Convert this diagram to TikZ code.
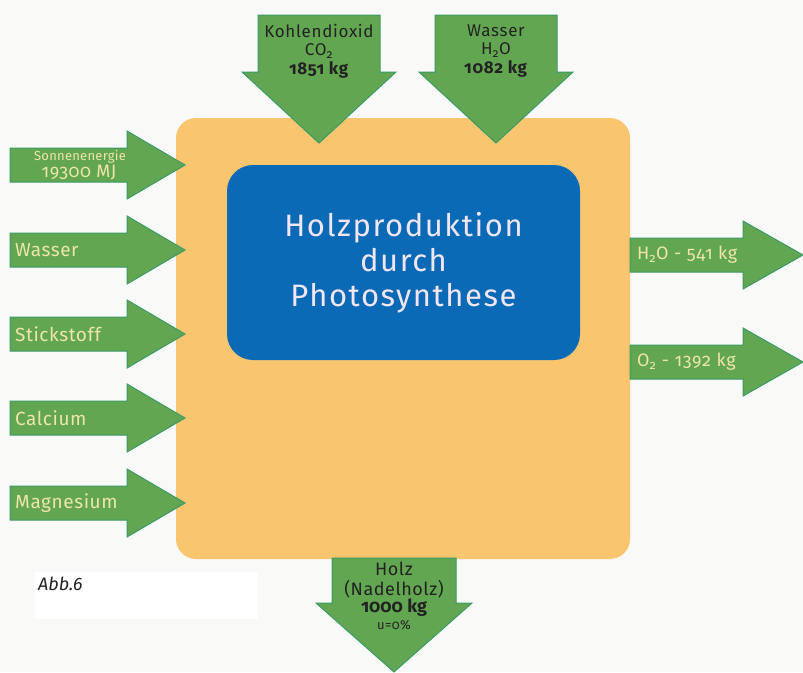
\documentclass[tikz,border=0pt]{standalone}
\usepackage{fontspec}
\setmainfont{Fira Sans}[Numbers=OldStyle]
\usetikzlibrary{positioning}
\definecolor{paper}{HTML}{F9F9F7}
\definecolor{boxorange}{HTML}{F9C66F}
\definecolor{coreblue}{HTML}{0A6AB6}
\definecolor{coretext}{HTML}{F3E6F3}
\definecolor{flowgreen}{HTML}{63A651}
\definecolor{flowedge}{HTML}{3A9A68}
\definecolor{labelyellow}{HTML}{EEE6A6}
\definecolor{labeldark}{HTML}{222222}

\begin{document}
\begin{tikzpicture}[x=1pt,y=-1pt,
    hub/.style={fill=boxorange, rounded corners=20pt, minimum width=454pt, minimum height=441pt},
    core/.style={fill=coreblue, rounded corners=26pt, minimum width=353pt, minimum height=195pt,
                 text=coretext, align=center, font=\fontsize{31}{35}\selectfont\addfontfeatures{LetterSpace=5}},
    flow/.style={fill=flowgreen, draw=flowedge, line width=1pt, line join=miter},
    sidelabel/.style={text=labelyellow, anchor=west, inner sep=0pt,
                      font=\fontsize{19}{19}\selectfont\addfontfeatures{LetterSpace=3}},
    outlabel/.style={sidelabel, font=\fontsize{18}{18}\selectfont\addfontfeatures{LetterSpace=4}},
    toplabel/.style={text=labeldark, align=center, inner sep=0pt,
                     font=\fontsize{17}{18.5}\selectfont\addfontfeatures{LetterSpace=4}}]

    \fill[paper] (0,0) rectangle (803,672);
    \useasboundingbox (0,0) rectangle (803,672);
    \fill[white] (35,572) rectangle (258,619);

    \node[hub]  (plant) at (403,338.5) {};
    \node[core] (photo) at (403.5,262.5) {Holzproduktion\\durch\\Photosynthese};

    \foreach \y in {165,250,334,418,503}
        \draw[flow] (10,\y-17) -- (127,\y-17) -- (127,\y-34) -- (185,\y)
                    -- (127,\y+34) -- (127,\y+17) -- (10,\y+17) -- cycle;
    \foreach \y in {255,362}
        \draw[flow] (630,\y-17) -- (743,\y-17) -- (743,\y-34) -- (803,\y)
                    -- (743,\y+34) -- (743,\y+17) -- (630,\y+17) -- cycle;
    \foreach \x in {319,496}
        \draw[flow] (\x-61,15) -- (\x+61,15) -- (\x+61,72) -- (\x+77,72)
                    -- (\x,143) -- (\x-77,72) -- (\x-61,72) -- cycle;
    \draw[flow] (332,558) -- (456,558) -- (456,603) -- (472,603)
                -- (394,672) -- (316,603) -- (332,603) -- cycle;

    \node[text=labelyellow, inner sep=0pt, font=\fontsize{13}{13}\selectfont\addfontfeatures{LetterSpace=2}] (sunname) at (80,157) {Sonnenenergie};
    \node[text=labelyellow, inner sep=0pt, font=\fontsize{18}{18}\selectfont\addfontfeatures{LetterSpace=3}] (sunmj) at (79,173) {19300 MJ};
    \node[sidelabel] (water)    at (15,250) {Wasser};
    \node[sidelabel] (nitrogen) at (15,334) {Stickstoff};
    \node[sidelabel] (calcium)  at (15,418) {Calcium};
    \node[sidelabel] (magnes)   at (15,503) {Magnesium};

    \node[outlabel] (outwater)  at (637,255) {H\textsubscript{2}O - 541 kg};
    \node[outlabel] (outoxygen) at (637,362) {O\textsubscript{2} - 1392 kg};

    \node[toplabel] (co2) at (319,51) {Kohlendioxid\\CO\textsubscript{2}\\\textbf{1851 kg}};
    \node[toplabel] (h2o) at (496,51) {Wasser\\H\textsubscript{2}O\\\textbf{1082 kg}};

    \node[toplabel, font=\fontsize{18}{20}\selectfont\addfontfeatures{LetterSpace=3}] (wood) at (394,580) {Holz\\(Nadelholz)};
    \node[toplabel, font=\fontsize{18}{18}\selectfont\bfseries] (woodkg) at (394,608) {1000 kg};
    \node[toplabel, font=\fontsize{13}{13}\selectfont\addfontfeatures{LetterSpace=3}] (woodu) [below=3pt of woodkg] {u=0\%};

    \node[anchor=base west, inner sep=0pt, text=labeldark, font=\fontsize{18}{18}\selectfont\itshape] (abb) at (38,590) {Abb.6};
\end{tikzpicture}
\end{document}
